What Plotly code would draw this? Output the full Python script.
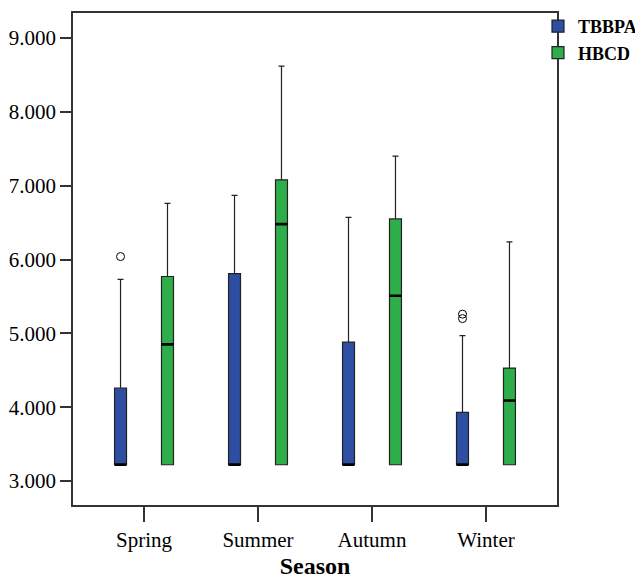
import plotly.graph_objects as go

seasons = ["Spring", "Summer", "Autumn", "Winter"]

tbbpa_lower = [3.22, 3.22, 3.22, 3.22]
tbbpa_q1 = [3.22, 3.22, 3.22, 3.22]
tbbpa_median = [3.22, 3.22, 3.22, 3.22]
tbbpa_q3 = [4.26, 5.81, 4.88, 3.93]
tbbpa_upper = [5.73, 6.87, 6.57, 4.97]
tbbpa_outliers = [[6.04], [], [], [5.26, 5.20]]

hbcd_lower = [3.22, 3.22, 3.22, 3.22]
hbcd_q1 = [3.22, 3.22, 3.22, 3.22]
hbcd_median = [4.85, 6.48, 5.51, 4.09]
hbcd_q3 = [5.77, 7.08, 6.55, 4.53]
hbcd_upper = [6.76, 8.62, 7.40, 6.24]
hbcd_outliers = None

y_ticks = [3, 4, 5, 6, 7, 8, 9]

BLUE = "#2E4EA3"
GREEN = "#2EAE4A"
EDGE = "#222222"
SERIF = "Liberation Serif, Times New Roman, serif"

# page body adds an 8px offset, so the figure is drawn 8px smaller
W, H = 635, 571

fig = go.Figure()


def add_series(name, color, group, lower, q1, med, q3, upper, outl):
    kw = {}
    if outl is not None:
        kw["y"] = outl
        kw["boxpoints"] = "outliers"
    else:
        kw["boxpoints"] = False
    fig.add_trace(go.Box(
        name=name, x=seasons,
        lowerfence=lower, q1=q1, median=med, q3=q3, upperfence=upper,
        jitter=0, pointpos=0,
        marker=dict(symbol="circle-open", color="black", size=8,
                    line=dict(color="black", width=1)),
        fillcolor=color, line=dict(color=EDGE, width=1.2),
        whiskerwidth=0.5, offsetgroup=group, legendgroup=group,
        hoverinfo="skip", **kw,
    ))
    # thick median bars
    fig.add_trace(go.Box(
        name=name, x=seasons,
        lowerfence=med, q1=med, median=med, q3=med, upperfence=med,
        boxpoints=False, fillcolor="rgba(0,0,0,0)",
        line=dict(color="black", width=2.6), whiskerwidth=0,
        offsetgroup=group, legendgroup=group, showlegend=False,
        hoverinfo="skip",
    ))


add_series("TBBPA", BLUE, "T", tbbpa_lower, tbbpa_q1, tbbpa_median,
           tbbpa_q3, tbbpa_upper, tbbpa_outliers)
add_series("HBCD", GREEN, "H", hbcd_lower, hbcd_q1, hbcd_median,
           hbcd_q3, hbcd_upper, hbcd_outliers)

fig.update_layout(
    width=W, height=H,
    margin=dict(l=65, r=86, t=5, b=74, autoexpand=False),
    paper_bgcolor="white", plot_bgcolor="white",
    boxmode="group", boxgap=0.176, boxgroupgap=0.745,
    font=dict(family=SERIF, size=20, color="black"),
    legend=dict(xref="container", yref="container",
                x=530 / W, y=1 + 13 / H, xanchor="left", yanchor="top",
                font=dict(family=SERIF, size=18, color="black", weight="bold"),
                bgcolor="rgba(0,0,0,0)", borderwidth=0,
                tracegroupgap=0, itemwidth=30, traceorder="normal"),
)

fig.update_xaxes(
    type="category", range=[-0.623, 3.623], automargin=False,
    showline=True, mirror=True, linecolor="#333333", linewidth=1.5,
    ticks="outside", ticklen=15, tickwidth=1.5, tickcolor="#333333",
    tickfont=dict(family=SERIF, size=21),
    showgrid=False, zeroline=False,
    title=dict(text="<b>Season</b>", font=dict(family=SERIF, size=24), standoff=12),
)
fig.update_yaxes(
    range=[2.675, 9.339], tickvals=y_ticks, tickformat=".3f", automargin=False,
    showline=True, mirror=True, linecolor="#333333", linewidth=1.5,
    ticks="outside", ticklen=11, tickwidth=1.5, tickcolor="#333333",
    tickfont=dict(family=SERIF, size=21),
    showgrid=False, zeroline=False,
)

fig.write_html("out.html")
